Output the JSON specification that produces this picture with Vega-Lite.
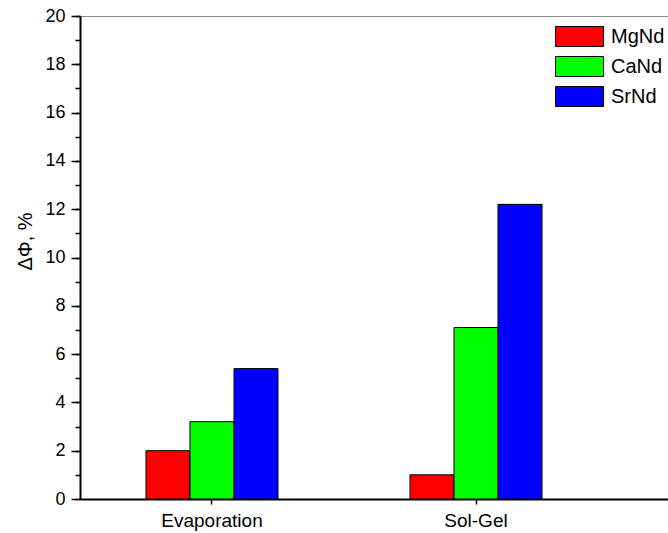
{
  "$schema": "https://vega.github.io/schema/vega-lite/v6.json",
  "width": 588,
  "height": 483,
  "autosize": {"type": "none"},
  "padding": {"left": 80, "top": 16, "right": 0, "bottom": 34},
  "background": "white",
  "config": {
    "view": {"stroke": "#888888", "strokeWidth": 1},
    "font": "Liberation Sans"
  },
  "data": {
    "values": [
      {"method": "Evaporation", "sample": "MgNd", "value": 2.0},
      {"method": "Evaporation", "sample": "CaNd", "value": 3.2},
      {"method": "Evaporation", "sample": "SrNd", "value": 5.4},
      {"method": "Sol-Gel", "sample": "MgNd", "value": 1.0},
      {"method": "Sol-Gel", "sample": "CaNd", "value": 7.1},
      {"method": "Sol-Gel", "sample": "SrNd", "value": 12.2}
    ]
  },
  "layer": [
    {
      "mark": {"type": "rule", "opacity": 0},
      "encoding": {
        "y": {
          "field": "value",
          "type": "quantitative",
          "scale": {"domain": [0, 20], "nice": false},
          "axis": {
            "orient": "left",
            "values": [0,1,2,3,4,5,6,7,8,9,10,11,12,13,14,15,16,17,18,19,20],
            "tickSize": 5,
            "tickWidth": 1.5,
            "tickColor": "black",
            "labels": false,
            "domain": false,
            "grid": false,
            "title": null
          }
        }
      }
    },
    {
      "mark": {"type": "bar", "stroke": "black", "strokeWidth": 1},
      "encoding": {
        "x": {
          "field": "method",
          "type": "nominal",
          "sort": ["Evaporation", "Sol-Gel"],
          "scale": {"paddingInner": 0.5, "paddingOuter": 0.3636, "align": 0.34375},
          "axis": {
            "title": null,
            "labelAngle": 0,
            "labelFontSize": 19,
            "labelColor": "black",
            "labelPadding": 7,
            "tickSize": 5,
            "tickWidth": 1.5,
            "tickColor": "black",
            "domainColor": "black",
            "domainWidth": 2
          }
        },
        "xOffset": {
          "field": "sample",
          "type": "nominal",
          "sort": ["MgNd", "CaNd", "SrNd"],
          "scale": {"paddingInner": 0, "paddingOuter": 0}
        },
        "y": {
          "field": "value",
          "type": "quantitative",
          "scale": {"domain": [0, 20], "nice": false},
          "axis": {
            "orient": "left",
            "values": [0,2,4,6,8,10,12,14,16,18,20],
            "tickSize": 9,
            "tickWidth": 1.5,
            "tickColor": "black",
            "domainColor": "black",
            "domainWidth": 2,
            "labelFontSize": 18,
            "labelColor": "black",
            "labelPadding": 6,
            "grid": false,
            "title": "ΔΦ, %",
            "titleFontSize": 20,
            "titleFontWeight": "normal",
            "titleColor": "black",
            "titleAngle": -90,
            "titleX": -55,
            "titleY": 225,
            "titleAlign": "center",
            "titleBaseline": "middle"
          }
        },
        "color": {
          "field": "sample",
          "type": "nominal",
          "sort": ["MgNd", "CaNd", "SrNd"],
          "scale": {"domain": ["MgNd", "CaNd", "SrNd"], "range": ["#ff0000", "#00ff00", "#0000ff"]},
          "legend": {
            "title": null,
            "orient": "none",
            "legendX": 489,
            "legendY": 10,
            "symbolType": "M-2.4,-1H2.4V1H-2.4Z",
            "symbolSize": 400,
            "symbolStrokeColor": "black",
            "symbolStrokeWidth": 1,
            "symbolOpacity": 1,
            "labelFontSize": 20,
            "labelColor": "black",
            "labelOffset": 21,
            "rowPadding": 5,
            "padding": 0
          }
        }
      }
    }
  ],
  "resolve": {"axis": {"y": "independent"}}
}
